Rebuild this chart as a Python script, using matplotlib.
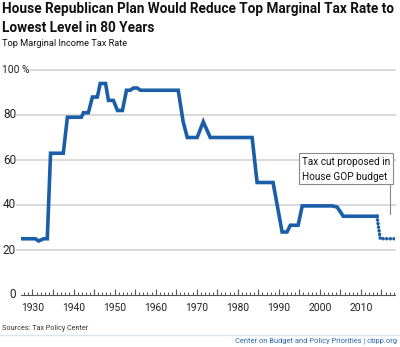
import matplotlib
matplotlib.use("Agg")
import matplotlib.pyplot as plt
from matplotlib.ticker import MultipleLocator, NullFormatter
from matplotlib.patches import Rectangle
import matplotlib.transforms as mtransforms

# Top marginal income tax rate (%), by year
years = [1927.3, 1930.7, 1931.5, 1932.7, 1933.6, 1934.4, 1937.5, 1938.5, 1941.9,
         1942.4, 1943.6, 1944.6, 1945.8, 1946.5, 1947.8, 1948.5, 1949.7, 1950.7,
         1951.9, 1952.9, 1953.8, 1954.6, 1955.5, 1956.3, 1965.5, 1966.7, 1967.7,
         1970.1, 1971.6, 1973.3, 1983.5, 1984.7, 1988.6, 1990.8, 1992.0, 1992.8,
         1994.7, 1995.7, 2003.0, 2004.2, 2005.7, 2013.9]
rates = [25, 25, 24, 25, 25, 63, 63, 79, 79,
         81, 81, 88, 88, 94, 94, 86.5, 86.5, 82,
         82, 91, 91, 92, 92, 91, 91, 77, 70,
         70, 77, 70, 70, 50, 50, 28, 28, 31,
         31, 39.6, 39.6, 39.1, 35, 35]

# Proposed cut in the House GOP budget
proposal_years = [2013.9, 2014.7, 2018.3]
proposal_rates = [35, 25, 25]

y_ticks = [0, 20, 40, 60, 80, 100]
y_labels = ["0", "20", "40", "60", "80", "100 %"]
x_ticks = [1930, 1940, 1950, 1960, 1970, 1980, 1990, 2000, 2010]
x_labels = [str(v) for v in x_ticks]

title_lines = ["House Republican Plan Would Reduce Top Marginal Tax Rate to",
               "Lowest Level in 80 Years"]
subtitle = "Top Marginal Income Tax Rate"
source = "Sources: Tax Policy Center"
credit = "Center on Budget and Policy Priorities | cbpp.org"
note_lines = ["Tax cut proposed in", "House GOP budget"]

FONT = ["Roboto", "DejaVu Sans"]
plt.rcParams["font.family"] = FONT

W, H = 400, 347
fig = plt.figure(figsize=(W / 100, H / 100), dpi=100)
fig.patch.set_facecolor("white")


def fx(px):
    return px / W


def fy(py):
    return 1 - py / H


xmin, xmax = 1927.2, 2018.3
ax = fig.add_axes([fx(21), fy(295), fx(395) - fx(21), fy(70) - fy(295)])
ax.set_xlim(xmin, xmax)
ax.set_ylim(0, 100)

blue = "#1b5ea8"
grid_c = "#d9d9d9"

# Horizontal gridlines, extending a little left of the axis
for v in y_ticks[1:]:
    ax.axhline(v, xmin=-4 / 374, xmax=1.0, color=grid_c, lw=1.4, clip_on=False, zorder=1)

ax.plot(years, rates, color=blue, lw=2.6, solid_joinstyle="miter", zorder=3)
ax.plot(proposal_years, proposal_rates, color=blue, lw=2.5,
        linestyle=(0, (0.05, 1.0)), dash_capstyle="round", zorder=3)

for s in ["top", "right", "left"]:
    ax.spines[s].set_visible(False)
ax.spines["bottom"].set_color("#555555")
ax.spines["bottom"].set_linewidth(0.8)

ax.set_yticks([])
ax.xaxis.set_major_locator(MultipleLocator(5))
ax.xaxis.set_minor_locator(MultipleLocator(1))
ax.xaxis.set_major_formatter(NullFormatter())
ax.tick_params(axis="x", which="major", direction="in", length=4, width=0.8,
               color="#555555")
ax.tick_params(axis="x", which="minor", direction="in", length=2, width=0.7,
               color="#555555")

fig.canvas.draw()
renderer = fig.canvas.get_renderer()


def fit_width(txt, target_px):
    bb = txt.get_window_extent(renderer)
    txt.set_fontsize(txt.get_fontsize() * target_px / bb.width)


# Year labels
trans_x = mtransforms.blended_transform_factory(ax.transData, fig.transFigure)
for v, lab in zip(x_ticks, x_labels):
    xt = ax.text(v, fy(308), lab, transform=trans_x, ha="center", va="center",
                 fontsize=8.5, color="#222222")
    fit_width(xt, 23)

# Value labels
trans_y = mtransforms.blended_transform_factory(fig.transFigure, ax.transData)
for v, lab in zip(y_ticks, y_labels):
    if lab.endswith("%"):
        yt = ax.text(fx(2), v, lab, transform=trans_y, ha="left", va="center",
                     fontsize=8.5, color="#222222", zorder=5,
                     bbox=dict(facecolor="white", edgecolor="none", pad=0.6))
        fit_width(yt, 27)
    else:
        ax.text(fx(16), v, lab, transform=trans_y, ha="right", va="center",
                fontsize=8.5, color="#222222")

# Title, two lines sharing one size
t1 = fig.text(fx(2), fy(13.5), title_lines[0], ha="left", va="baseline",
              fontsize=10.5, fontweight="bold", color="#111111")
fit_width(t1, 392)
t2 = fig.text(fx(2), fy(32.5), title_lines[1], ha="left", va="baseline",
              fontsize=t1.get_fontsize(), fontweight="bold", color="#111111")

s = fig.text(fx(2), fy(46.5), subtitle, ha="left", va="baseline", fontsize=8,
             color="#111111")
fit_width(s, 126)

src = fig.text(fx(2), fy(328.5), source, ha="left", va="center", fontsize=6.5,
               color="#333333")
fit_width(src, 86)
cr = fig.text(fx(397), fy(341), credit, ha="right", va="center", fontsize=6.5,
              color="#2a66ad")
fit_width(cr, 160)

# Rule above the credit line
fig.add_artist(plt.Line2D([0, 1], [fy(335), fy(335)], transform=fig.transFigure,
                          color="#dde5ee", lw=1.0))

# Annotation box with leader line
fig.add_artist(Rectangle((fx(299), fy(184)), fx(393) - fx(299), fy(153) - fy(184),
                         transform=fig.transFigure, facecolor="white",
                         edgecolor="#888888", lw=0.8, zorder=4))
n1 = fig.text(fx(302), fy(165), note_lines[0], ha="left", va="baseline",
              fontsize=8.5, color="#111111", zorder=5)
fit_width(n1, 87)
fig.text(fx(302), fy(180.5), note_lines[1], ha="left", va="baseline",
         fontsize=n1.get_fontsize(), color="#111111", zorder=5)
fig.add_artist(plt.Line2D([fx(390), fx(390)], [fy(184), fy(214)],
                          transform=fig.transFigure, color="#888888", lw=0.8))

fig.savefig("out.png", dpi=100, facecolor="white")
